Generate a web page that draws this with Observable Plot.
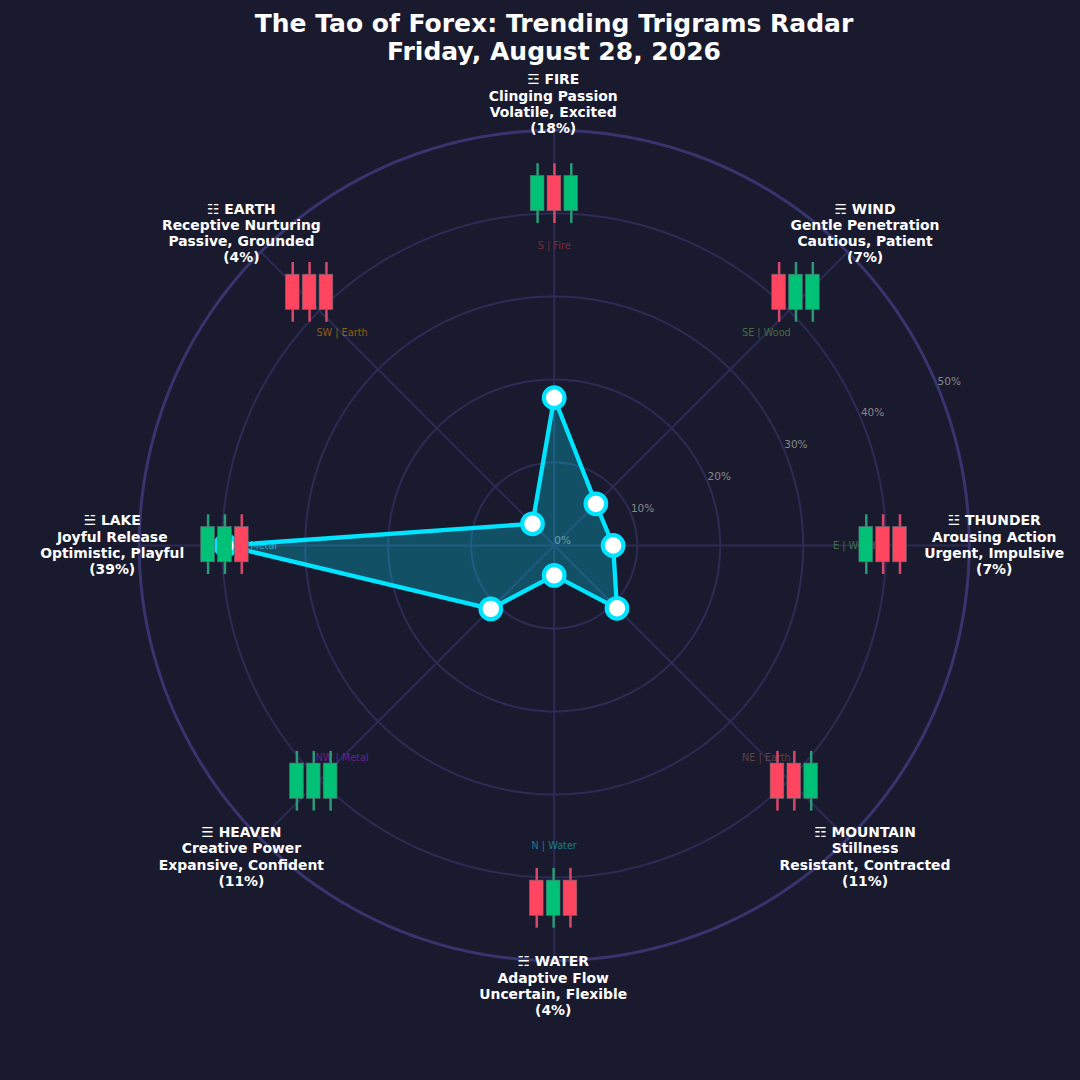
<!DOCTYPE html>
<html>
<head>
<meta charset="utf-8">
<script src="https://cdn.jsdelivr.net/npm/d3@7"></script>
<script src="https://cdn.jsdelivr.net/npm/@observablehq/plot@0.6"></script>
<style>
html,body{margin:0;padding:0;background:#1a1a2e;width:1080px;height:1080px;overflow:hidden}
#wrap{position:relative;width:1080px;height:1080px}
#title{position:absolute;left:0;right:0;top:10px;text-align:center;color:#fff;font:bold 25px/28px "DejaVu Sans";z-index:2;padding-left:28px;box-sizing:border-box}
</style>
</head>
<body>
<div id="wrap"><div id="title">The Tao of Forex: Trending Trigrams Radar<br>Friday, August 28, 2026</div></div>
<script>
// Clockwise from the top
const names = ["FIRE","WIND","THUNDER","MOUNTAIN","WATER","HEAVEN","LAKE","EARTH"];
const glyphs = ["☲","☴","☳","☶","☵","☰","☱","☷"];
const meanings = ["Clinging Passion","Gentle Penetration","Arousing Action","Stillness","Adaptive Flow","Creative Power","Joyful Release","Receptive Nurturing"];
const moods = ["Volatile, Excited","Cautious, Patient","Urgent, Impulsive","Resistant, Contracted","Uncertain, Flexible","Expansive, Confident","Optimistic, Playful","Passive, Grounded"];
const percents = [18,7,7,11,4,11,39,4];
const plotted = [17.8,7.1,7.1,10.7,3.6,10.8,39.6,3.7];
const directions = ["S | Fire","SE | Wood","E | Wood","NE | Earth","N | Water","NW | Metal","W | Metal","SW | Earth"];
const directionColors = ["#7c2a3c","#436f3e","#3d704c","#5a434c","#137e92","#6c2089","#4596ae","#905e18"];
const candlePatterns = ["GRG","RGG","GRR","RRG","RGR","GGG","GGR","RRR"];
const candleEast = [0.03,29.13,39.63,28.93,-0.07,-28.97,-39.67,-29.47];
const candleNorth = [42.4,30.5,0.1,-28.4,-42.5,-28.4,0.1,30.5];
const rings = [10,20,30,40,50];

const bg = "#1a1a2e", cyan = "#00e5ff", up = "#00c176", down = "#ff4560";
const pxPerUnit = 8.3, cx = 553.7, cy = 545;
const theta = i => i * Math.PI / 4;
const east = (r,i) => r * Math.sin(theta(i));
const north = (r,i) => r * Math.cos(theta(i));

const radar = plotted.map((v,i) => ({x:east(v,i), y:north(v,i)}));
const ringPts = rings.flatMap(r => d3.range(0,361,1).map(a => ({r, x:r*Math.sin(a*Math.PI/180), y:r*Math.cos(a*Math.PI/180)})));
const spokes = names.map((_,i) => ({x1:0,y1:0,x2:east(50,i),y2:north(50,i)}));
const dirLabels = directions.map((text,i) => ({text, color:directionColors[i], x:east(36.15,i), y:north(36.15,i)}));
const labels = names.map((n,i) => ({text:`${glyphs[i]} ${n}\n${meanings[i]}\n${moods[i]}\n(${percents[i]}%)`, x:east(53.13,i), y:north(53.13,i)}));
const rLabels = [0,...rings].map(r => ({r, x:r*Math.cos(Math.PI/8), y:r*Math.sin(Math.PI/8)}));

const candleStep = 2.03, bodyHalfW = 0.83, bodyHalfH = 2.13, wickHalfH = 3.6;
const candles = candlePatterns.flatMap((p,i) => [...p].map((c,j) => ({
  x:candleEast[i] + (j-1)*candleStep, y:candleNorth[i], color:c==="G"?up:down, wick:c==="G"?"#2a9a78":"#d8486a"
})));

const chart = Plot.plot({
  width:1080, height:1080, margin:0,
  style:{background:bg, fontFamily:'"DejaVu Sans"', overflow:"visible"},
  x:{axis:null, domain:[-cx/pxPerUnit,(1080-cx)/pxPerUnit], range:[0,1080]},
  y:{axis:null, domain:[-(1080-cy)/pxPerUnit,cy/pxPerUnit], range:[1080,0]},
  marks:[
    Plot.link(spokes,{x1:"x1",y1:"y1",x2:"x2",y2:"y2",stroke:"#2d2b55",strokeWidth:2}),
    Plot.line(ringPts.filter(d=>d.r<50),{x:"x",y:"y",z:"r",stroke:"#2d2b55",strokeWidth:2}),
    Plot.line(ringPts.filter(d=>d.r===50),{x:"x",y:"y",z:"r",stroke:"#37346e",strokeWidth:3}),
    Plot.text(rLabels,{x:"x",y:"y",text:d=>d.r+"%",textAnchor:"start",lineAnchor:"bottom",fill:"#888888",fontSize:10.5,dy:-2}),
    Plot.text(dirLabels,{x:"x",y:"y",text:"text",fill:"color",fontSize:9.7}),
    Plot.line(radar,{x:"x",y:"y",curve:"linear-closed",fill:cyan,fillOpacity:0.27,stroke:cyan,strokeWidth:4.3,strokeLinejoin:"round"}),
    Plot.dot(radar,{x:"x",y:"y",r:10.3,fill:"#ffffff",stroke:cyan,strokeWidth:4.2}),
    Plot.ruleX(candles,{x:"x",y1:d=>d.y-wickHalfH,y2:d=>d.y+wickHalfH,stroke:"wick",strokeWidth:2.5}),
    Plot.rect(candles,{x1:d=>d.x-bodyHalfW,x2:d=>d.x+bodyHalfW,y1:d=>d.y-bodyHalfH,y2:d=>d.y+bodyHalfH,fill:"color",stroke:"#5a6a70",strokeWidth:0.6}),
    Plot.text(labels,{x:"x",y:"y",text:"text",fill:"#ffffff",fontWeight:"bold",fontSize:13.9,lineHeight:1.165,lineAnchor:"middle",dx:-1,dy:-1})
  ]
});
document.getElementById("wrap").appendChild(chart);
</script>
</body>
</html>
